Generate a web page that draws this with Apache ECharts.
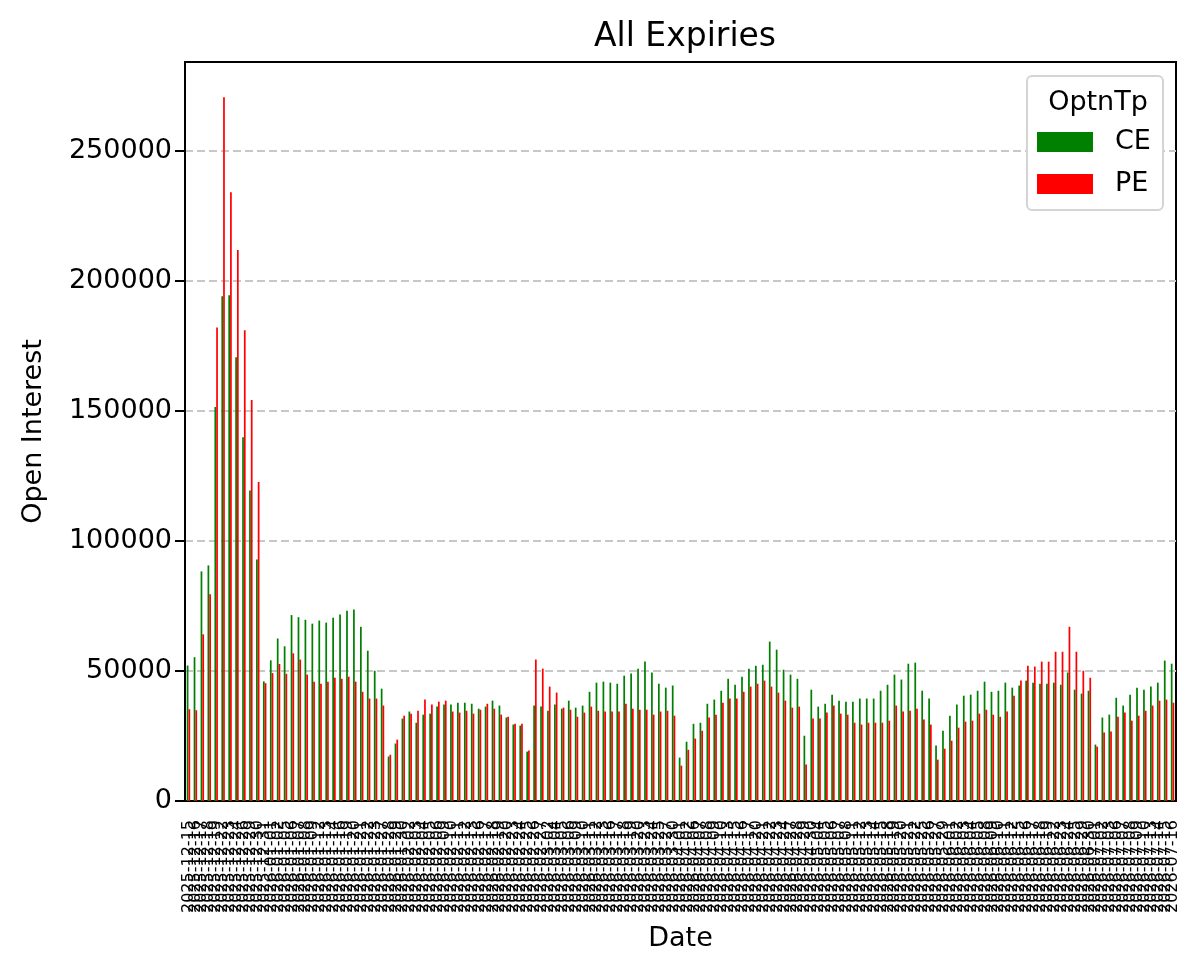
<!DOCTYPE html>
<html>
<head>
<meta charset="utf-8">
<title>All Expiries</title>
<script src="https://cdn.jsdelivr.net/npm/echarts@6/dist/echarts.min.js"></script>
<style>
    html, body { margin: 0; padding: 0; background: #fff; }
    #oi-chart { width: 1202px; height: 976px; }
</style>
</head>
<body>
<div id="oi-chart"></div>
<script>
// trading dates (x categories)
const dates = [
    '2025-12-15','2025-12-16','2025-12-17','2025-12-18','2025-12-19','2025-12-22','2025-12-23','2025-12-24','2025-12-26','2025-12-29','2025-12-30','2025-12-31',
    '2026-01-01','2026-01-02','2026-01-05','2026-01-06','2026-01-07','2026-01-08','2026-01-09','2026-01-12','2026-01-13','2026-01-14','2026-01-16',
    '2026-01-19','2026-01-20','2026-01-21','2026-01-22','2026-01-23','2026-01-27','2026-01-28','2026-01-29','2026-01-30',
    '2026-02-02','2026-02-03','2026-02-04','2026-02-05','2026-02-06','2026-02-09','2026-02-10','2026-02-11','2026-02-12','2026-02-13',
    '2026-02-16','2026-02-17','2026-02-18','2026-02-19','2026-02-20','2026-02-23','2026-02-24','2026-02-25','2026-02-26','2026-02-27',
    '2026-03-02','2026-03-04','2026-03-05','2026-03-06','2026-03-09','2026-03-10','2026-03-11','2026-03-12','2026-03-13',
    '2026-03-16','2026-03-17','2026-03-18','2026-03-19','2026-03-20','2026-03-23','2026-03-24','2026-03-25','2026-03-27','2026-03-30',
    '2026-04-01','2026-04-02','2026-04-06','2026-04-07','2026-04-08','2026-04-09','2026-04-10','2026-04-13','2026-04-15','2026-04-16','2026-04-17',
    '2026-04-20','2026-04-21','2026-04-22','2026-04-23','2026-04-24','2026-04-27','2026-04-28','2026-04-29','2026-04-30',
    '2026-05-04','2026-05-05','2026-05-06','2026-05-07','2026-05-08','2026-05-11','2026-05-12','2026-05-13','2026-05-14','2026-05-15',
    '2026-05-18','2026-05-19','2026-05-20','2026-05-21','2026-05-22','2026-05-25','2026-05-26','2026-05-27','2026-05-29',
    '2026-06-01','2026-06-02','2026-06-03','2026-06-04','2026-06-05','2026-06-08','2026-06-09','2026-06-10','2026-06-11','2026-06-12',
    '2026-06-15','2026-06-16','2026-06-17','2026-06-18','2026-06-19','2026-06-22','2026-06-23','2026-06-24','2026-06-25','2026-06-29','2026-06-30',
    '2026-07-01','2026-07-02','2026-07-03','2026-07-06','2026-07-07','2026-07-08','2026-07-09','2026-07-10','2026-07-13','2026-07-14','2026-07-15','2026-07-16'
]

// call open interest
const ceData = [
    52100, 55300, 88300, 90600, 151500, 194100, 194500, 170700, 139900, 119400,
    92900, 46000, 54100, 62500, 59500, 71500, 70700, 69700, 68200, 69400,
    68600, 70500, 71700, 73200, 73600, 67000, 57800, 50100, 43200, 17100,
    22100, 31700, 34400, 30100, 33200, 33600, 36300, 37100, 37100, 37800,
    37800, 37400, 35500, 36300, 38600, 36700, 32100, 29400, 29000, 19000,
    36700, 36300, 34700, 37100, 35500, 38600, 35900, 36700, 42000, 45500,
    45900, 45500, 45100, 48200, 49000, 50900, 53600, 49400, 45100, 43600,
    44400, 16700, 22800, 29700, 30100, 37400, 39000, 42400, 47000, 44700,
    47800, 50900, 52000, 52400, 61300, 58200, 50500, 48600, 47000, 25100,
    42800, 36300, 37400, 40900, 38600, 38200, 38200, 39400, 39400, 39400,
    42400, 44700, 48600, 46700, 52800, 53200, 42400, 39400, 21300, 27000,
    32800, 37100, 40500, 40900, 42400, 45900, 42000, 42400, 45500, 43600,
    44400, 46300, 45500, 45100, 45100, 45500, 44700, 49400, 42800, 41300,
    42400, 21700, 32100, 33200, 39700, 36700, 40900, 43600, 42800, 44000,
    45500, 54000, 52800
]

// put open interest
const peData = [
    35300, 34900, 64100, 79500, 182100, 270600, 234100, 211900, 181000, 154200,
    122700, 45300, 49200, 52700, 48900, 56800, 54400, 48600, 45900, 45100,
    45900, 47400, 47000, 47800, 45900, 42000, 39400, 39400, 36700, 17800,
    23600, 32800, 33600, 34700, 39000, 37100, 38200, 38600, 34400, 34000,
    34700, 33600, 35100, 37400, 35500, 33200, 32400, 29700, 29700, 19400,
    54400, 50900, 44000, 41700, 35900, 35100, 32400, 34000, 36300, 34700,
    34400, 34400, 34400, 37400, 35500, 35100, 35100, 33200, 34400, 34700,
    32800, 13600, 19700, 24000, 27000, 32100, 33200, 37800, 39400, 39400,
    42000, 44000, 45100, 46300, 44000, 41700, 38600, 35900, 36300, 14000,
    31700, 31700, 34000, 36700, 33600, 33200, 30100, 29400, 30100, 30100,
    30100, 30900, 36700, 34400, 34700, 35500, 31300, 29400, 15900, 20100,
    23200, 28200, 30500, 30900, 33600, 35100, 33200, 32400, 34400, 40500,
    46300, 52000, 51700, 53600, 53600, 57400, 57400, 67000, 57400, 50100,
    47400, 20900, 26300, 26700, 32400, 34000, 30900, 32800, 34700, 36700,
    38600, 39000, 37800
]

const yTicks = [0, 50000, 100000, 150000, 200000, 250000]

const FONT = 'DejaVu Sans'

let myChart = echarts.init(document.getElementById('oi-chart'))

let option = {
    backgroundColor: '#fff',
    animation: false,
    textStyle: { fontFamily: FONT },
    title: [
        {
            text: 'All Expiries',
            left: 680,
            top: 16,
            textAlign: 'center',
            textStyle: { fontFamily: FONT, fontSize: 33, fontWeight: 'normal', color: '#000' }
        },
        {
            text: 'OptnTp',
            left: 1093,
            top: 84,
            textAlign: 'center',
            z: 6,
            textStyle: { fontFamily: FONT, fontSize: 27, fontWeight: 'normal', color: '#000' }
        }
    ],
    // legend frame
    graphic: [
        {
            type: 'rect',
            z: 3,
            shape: { x: 1027, y: 76, width: 136, height: 134, r: 5 },
            style: { fill: '#fff', stroke: '#d4d4d4', lineWidth: 2 }
        }
    ],
    legend: {
        orient: 'vertical',
        left: 1037,
        top: 128,
        padding: 0,
        itemWidth: 56,
        itemHeight: 20,
        itemGap: 14,
        icon: 'rect',
        z: 5,
        textStyle: {
            fontFamily: FONT,
            fontSize: 27,
            lineHeight: 28,
            color: '#000',
            padding: [0, 0, 0, 17]
        },
        data: ['CE', 'PE']
    },
    grid: {
        left: 185,
        right: 26,
        top: 62,
        bottom: 175,
        show: true,
        borderColor: '#000',
        borderWidth: 2
    },
    xAxis: {
        type: 'category',
        data: dates,
        boundaryGap: true,
        name: 'Date',
        nameLocation: 'middle',
        nameGap: 124,
        nameTextStyle: { fontFamily: FONT, fontSize: 27, color: '#000' },
        axisLine: { lineStyle: { color: '#000', width: 2 } },
        axisTick: {
            alignWithLabel: true,
            interval: 0,
            length: 10,
            lineStyle: { color: '#000', width: 2 }
        },
        axisLabel: {
            interval: 0,
            rotate: 90,
            margin: 19,
            fontFamily: FONT,
            fontSize: 16,
            color: '#000'
        },
        splitLine: { show: false }
    },
    yAxis: {
        type: 'value',
        min: 0,
        max: 284200,
        interval: 50000,
        name: 'Open Interest',
        nameLocation: 'middle',
        nameGap: 138,
        nameTextStyle: { fontFamily: FONT, fontSize: 27, color: '#000' },
        axisLine: { show: true, lineStyle: { color: '#000', width: 2 } },
        axisTick: {
            show: true,
            length: 10,
            customValues: yTicks,
            lineStyle: { color: '#000', width: 2 }
        },
        axisLabel: {
            margin: 13,
            customValues: yTicks,
            formatter: value => String(value),
            fontFamily: FONT,
            fontSize: 27,
            color: '#000'
        },
        splitLine: {
            show: true,
            lineStyle: { color: '#c8c8c8', width: 2, type: [8, 4] }
        }
    },
    series: [
        {
            name: 'CE',
            type: 'bar',
            barWidth: '25%',
            barGap: '0%',
            itemStyle: { color: '#008000' },
            data: ceData
        },
        {
            name: 'PE',
            type: 'bar',
            barWidth: '25%',
            barGap: '0%',
            itemStyle: { color: '#ff0000' },
            data: peData
        }
    ]
}

if (option && typeof option === 'object') {
    myChart.setOption(option, true)
}
</script>
</body>
</html>
